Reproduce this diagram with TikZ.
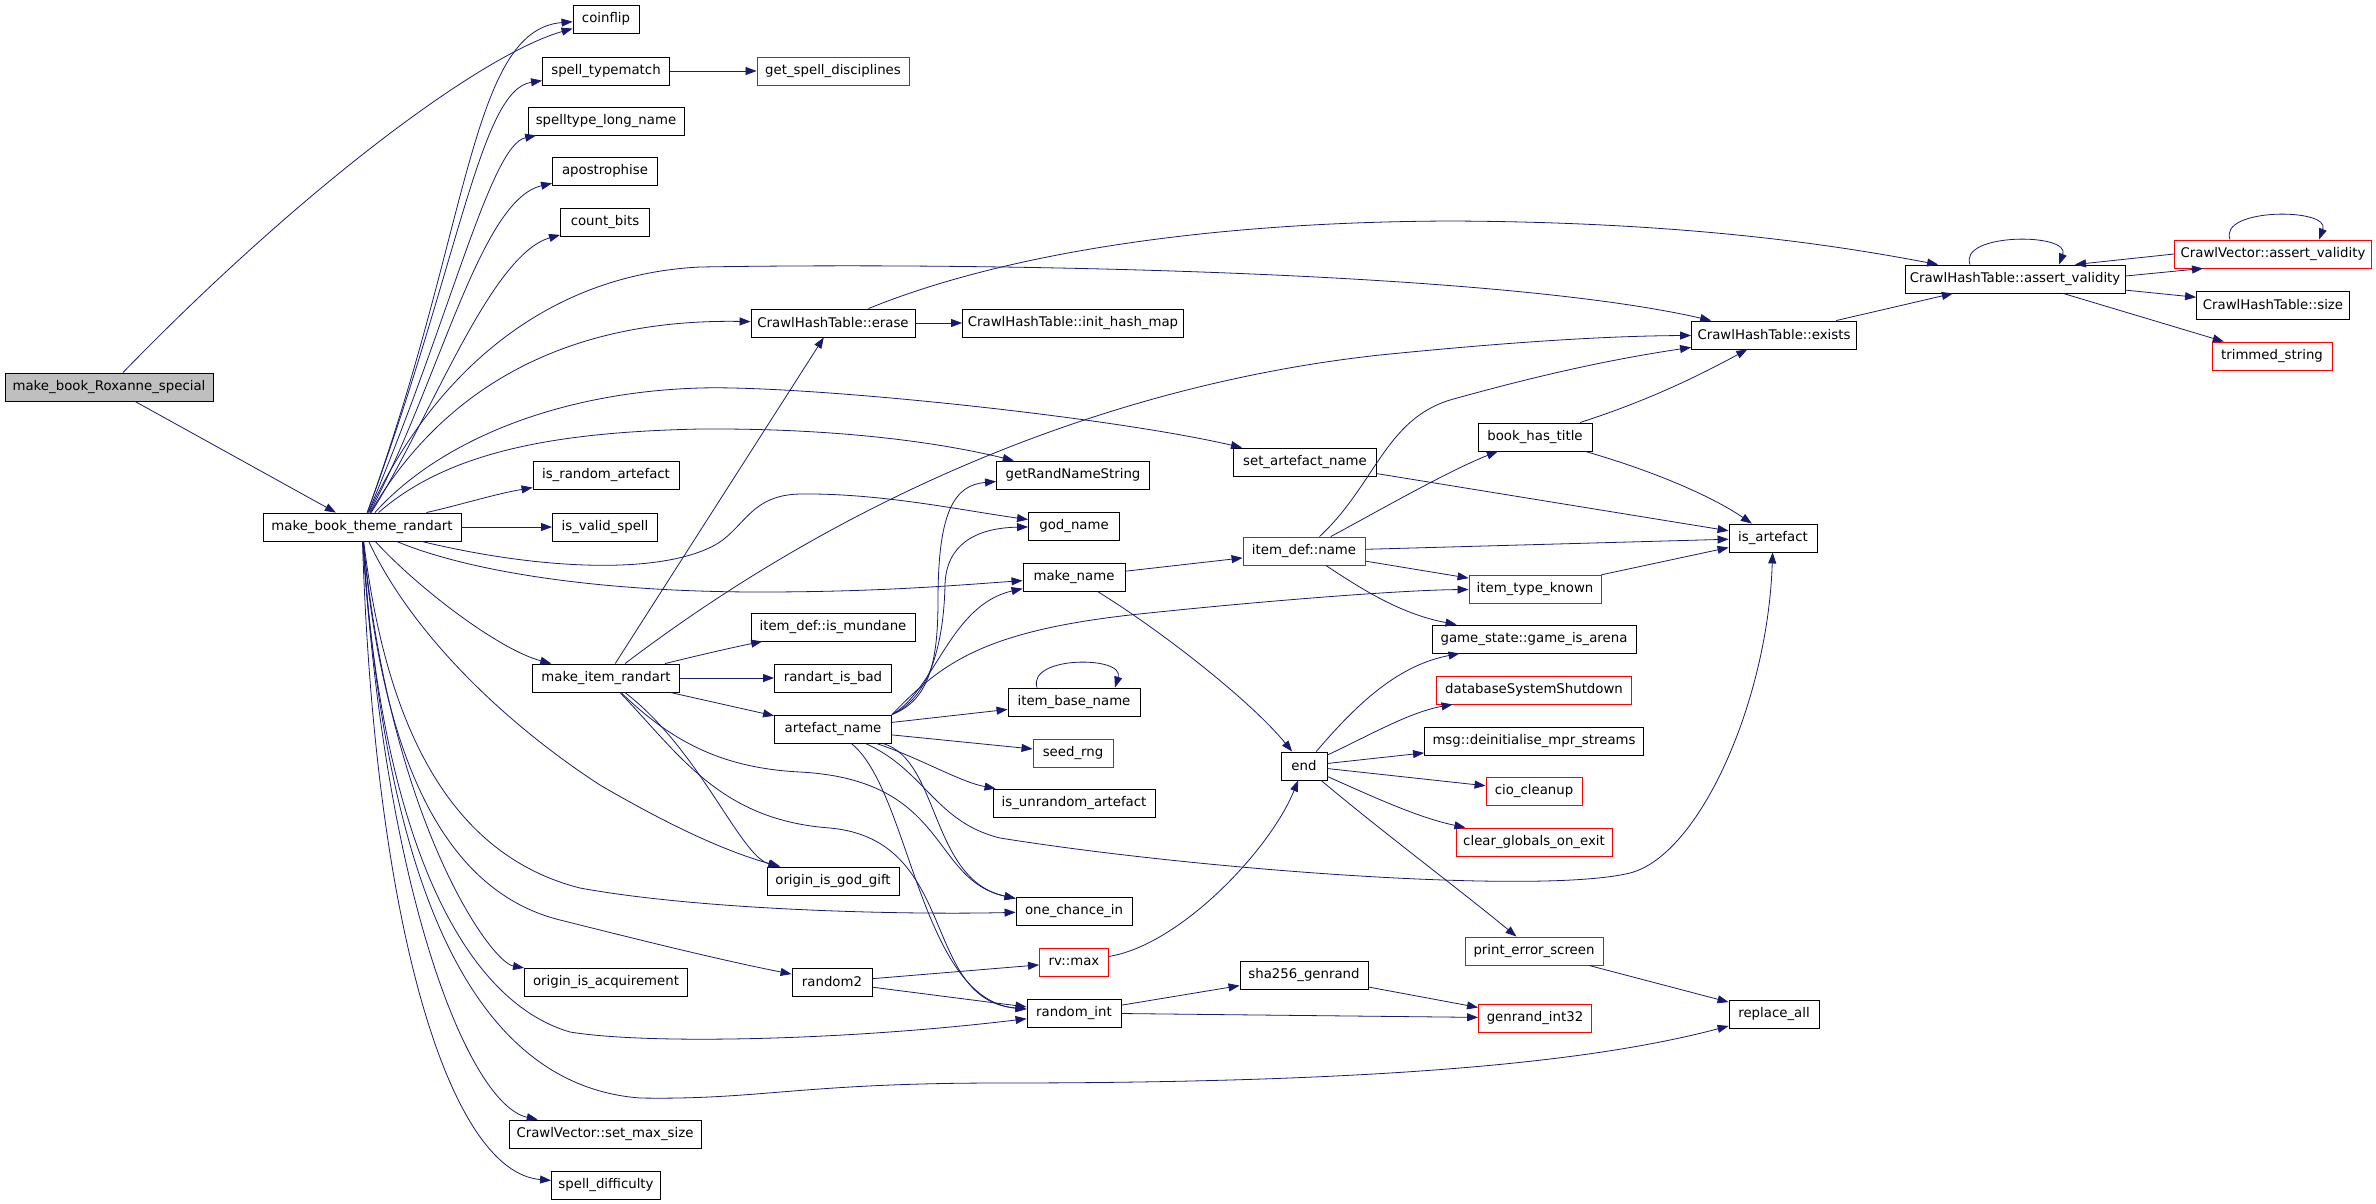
\documentclass[tikz,border=0pt]{standalone}
\usepackage{fontspec}
\newfontfamily\graphfont{DejaVu Sans}
\usepackage{tikz}
\usetikzlibrary{arrows.meta}
\definecolor{edgeblue}{RGB}{25,25,112}
\definecolor{rootgray}{RGB}{191,191,191}
\tikzset{
  fn/.style={draw=black, line width=0.9pt, minimum height=28pt, inner xsep=1pt, inner ysep=0pt, font=\graphfont\fontsize{13.3}{16}\selectfont},
  fnred/.style={fn, draw=red},
  call/.style={draw=edgeblue, line width=0.8pt, -{Triangle[length=11pt,width=8pt]}},
}

\begin{document}
\begin{tikzpicture}[x=1pt, y=-1pt]
    \useasboundingbox (0,0) rectangle (2376,1203);

    \node[fn, fill=rootgray, minimum width=208pt] (Rox) at (109,387) {make\_book\_Roxanne\_special};
    \node[fn, minimum width=198pt] (Theme) at (362,527) {make\_book\_theme\_randart};
    \node[fn, minimum width=66pt] (Coin) at (606,19) {coinflip};
    \node[fn, minimum width=127pt] (TypeM) at (606,71) {spell\_typematch};
    \node[fn, minimum width=156pt] (LongN) at (606,121) {spelltype\_long\_name};
    \node[fn, minimum width=105pt] (Apos) at (605,171) {apostrophise};
    \node[fn, minimum width=89pt] (CntB) at (605,222) {count\_bits};
    \node[fn, minimum width=146pt] (IsRnd) at (606,475) {is\_random\_artefact};
    \node[fn, minimum width=105pt] (IsVal) at (605,527) {is\_valid\_spell};
    \node[fn, minimum width=147pt] (MkItem) at (606,678) {make\_item\_randart};
    \node[fn, minimum width=163pt] (OrigAcq) at (606,982) {origin\_is\_acquirement};
    \node[fn, minimum width=192pt] (SetMax) at (605,1134) {CrawlVector::set\_max\_size};
    \node[fn, minimum width=109pt] (SpDiff) at (606,1185) {spell\_difficulty};
    \node[fnred, minimum width=152pt] (GetSD) at (833,71) {get\_spell\_disciplines};
    \node[fn, minimum width=164pt] (Erase) at (833,323) {CrawlHashTable::erase};
    \node[fn, minimum width=221pt] (InitHM) at (1073,323) {CrawlHashTable::init\_hash\_map};
    \node[fn, minimum width=164pt] (Mund) at (833,627) {item\_def::is\_mundane};
    \node[fn, minimum width=117pt] (RBad) at (833,678) {randart\_is\_bad};
    \node[fn, minimum width=117pt] (ArtN) at (833,729) {artefact\_name};
    \node[fn, minimum width=132pt] (GodG) at (833,881) {origin\_is\_god\_gift};
    \node[fn, minimum width=80pt] (Rnd2) at (832,982) {random2};
    \node[fn, minimum width=153pt] (GetRNS) at (1073,475) {getRandNameString};
    \node[fn, minimum width=91pt] (GodN) at (1074,526) {god\_name};
    \node[fn, minimum width=102pt] (MkName) at (1074,577) {make\_name};
    \node[fn, minimum width=132pt] (BaseN) at (1074,702) {item\_base\_name};
    \node[fnred, minimum width=80pt] (Seed) at (1073,753) {seed\_rng};
    \node[fn, minimum width=162pt] (Unrnd) at (1074,803) {is\_unrandom\_artefact};
    \node[fn, minimum width=116pt] (OneCh) at (1074,911) {one\_chance\_in};
    \node[fnred, minimum width=69pt] (RvMax) at (1074,962) {rv::max};
    \node[fn, minimum width=94pt] (RndInt) at (1074,1013) {random\_int};
    \node[fn, minimum width=143pt] (SetArt) at (1305,462) {set\_artefact\_name};
    \node[fnred, minimum width=122pt] (DefName) at (1304,551) {item\_def::name};
    \node[fn, minimum width=46pt] (End) at (1304,766) {end};
    \node[fn, minimum width=128pt] (Sha) at (1304,975) {sha256\_genrand};
    \node[fn, minimum width=114pt] (BookT) at (1535,437) {book\_has\_title};
    \node[fnred, minimum width=132pt] (TypeK) at (1535,589) {item\_type\_known};
    \node[fn, minimum width=204pt] (Arena) at (1534,639) {game\_state::game\_is\_arena};
    \node[fnred, minimum width=195pt] (DbShut) at (1534,690) {databaseSystemShutdown};
    \node[fn, minimum width=219pt] (MsgDe) at (1534,741) {msg::deinitialise\_mpr\_streams};
    \node[fnred, minimum width=96pt] (Cio) at (1534,791) {cio\_cleanup};
    \node[fnred, minimum width=156pt] (ClrG) at (1534,842) {clear\_globals\_on\_exit};
    \node[fnred, minimum width=138pt] (PrErr) at (1534,951) {print\_error\_screen};
    \node[fnred, minimum width=113pt] (Gen32) at (1535,1018) {genrand\_int32};
    \node[fn, minimum width=165pt] (Exists) at (1774,335) {CrawlHashTable::exists};
    \node[fn, minimum width=88pt] (IsArt) at (1773,538) {is\_artefact};
    \node[fn, minimum width=90pt] (Repl) at (1774,1014) {replace\_all};
    \node[fn, minimum width=220pt] (AssertH) at (2015,279) {CrawlHashTable::assert\_validity};
    \node[fnred, minimum width=197pt] (AssertV) at (2273,254) {CrawlVector::assert\_validity};
    \node[fn, minimum width=153pt] (Size) at (2273,305) {CrawlHashTable::size};
    \node[fnred, minimum width=120pt] (Trim) at (2272,356) {trimmed\_string};

    \draw[call] (Rox) .. controls (300,190) and (480,55) .. (Coin);
    \draw (Rox) edge[call] (Theme);

    \draw[call] (Theme) .. controls (470,230) and (470,30) .. (Coin);
    \draw[call] (Theme) .. controls (460,260) and (480,90) .. (TypeM);
    \draw[call] (Theme) .. controls (450,320) and (490,145) .. (LongN);
    \draw[call] (Theme) .. controls (440,380) and (480,200) .. (Apos);
    \draw[call] (Theme) .. controls (430,420) and (490,255) .. (CntB);
    \draw[call] (Theme) .. controls (430,380) and (540,275) .. (700,267) .. controls (1000,262) and (1500,272) .. (Exists);
    \draw[call] (Theme) .. controls (430,410) and (540,318) .. (Erase);
    \draw[call] (Theme) .. controls (440,440) and (560,392) .. (700,388) .. controls (800,385) and (1100,415) .. (SetArt);
    \draw[call] (Theme) .. controls (450,450) and (560,432) .. (700,429) .. controls (850,428) and (950,445) .. (GetRNS);
    \draw[call] (Theme) .. controls (460,505) and (495,494) .. (IsRnd);
    \draw (Theme) edge[call] (IsVal);
    \draw[call] (Theme) .. controls (540,570) and (660,575) .. (715,545) .. controls (745,528) and (750,495) .. (800,494) .. controls (880,493) and (960,510) .. (GodN);
    \draw[call] (Theme) .. controls (470,572) and (600,592) .. (760,592) .. controls (880,592) and (960,585) .. (MkName);
    \draw[call] (Theme) .. controls (420,590) and (500,650) .. (MkItem);
    \draw[call] (Theme) .. controls (410,630) and (500,720) .. (600,785) .. controls (660,820) and (720,850) .. (GodG);
    \draw[call] (Theme) .. controls (390,760) and (470,860) .. (580,888) .. controls (700,910) and (900,915) .. (OneCh);
    \draw[call] (Theme) .. controls (385,790) and (460,895) .. (560,920) .. controls (640,940) and (720,960) .. (Rnd2);
    \draw[call] (Theme) .. controls (380,830) and (460,1000) .. (570,1032) .. controls (650,1045) and (850,1040) .. (RndInt);
    \draw[call] (Theme) .. controls (390,820) and (490,962) .. (OrigAcq);
    \draw[call] (Theme) .. controls (385,880) and (470,1085) .. (640,1098) .. controls (760,1100) and (800,1083) .. (1000,1083) .. controls (1400,1083) and (1600,1060) .. (Repl);
    \draw[call] (Theme) .. controls (385,900) and (470,1105) .. (SetMax);
    \draw[call] (Theme) .. controls (375,930) and (450,1172) .. (SpDiff);

    \draw (TypeM) edge[call] (GetSD);
    \draw (Erase) edge[call] (InitHM);
    \draw[call] (Erase) .. controls (1000,255) and (1200,222) .. (1450,221) .. controls (1700,222) and (1850,248) .. (AssertH);

    \draw (MkItem) edge[call] (Erase);
    \draw[call] (MkItem) .. controls (880,470) and (1150,380) .. (1380,355) .. controls (1500,343) and (1600,336) .. (Exists);
    \draw[call] (MkItem) .. controls (700,655) and (730,648) .. (Mund);
    \draw (MkItem) edge[call] (RBad);
    \draw (MkItem) edge[call] (ArtN);
    \draw[call] (MkItem) .. controls (700,750) and (740,856) .. (GodG);
    \draw[call] (MkItem) .. controls (670,740) and (720,768) .. (800,772) .. controls (950,780) and (930,880) .. (OneCh);
    \draw[call] (MkItem) .. controls (680,755) and (720,820) .. (830,828) .. controls (960,840) and (920,1000) .. (RndInt);

    \draw[call] (ArtN.north east) .. controls (930,700) and (938,660) .. (938,600) .. controls (938,510) and (955,485) .. (GetRNS);
    \draw[call] (ArtN.north east) .. controls (935,695) and (944,630) .. (945,585) .. controls (946,545) and (975,528) .. (GodN);
    \draw[call] (ArtN.north east) .. controls (935,690) and (950,605) .. (MkName);
    \draw[call] (ArtN.north east) .. controls (940,665) and (980,632) .. (1130,615) .. controls (1250,602) and (1400,590) .. (TypeK);
    \draw (ArtN) edge[call] (BaseN);
    \draw (ArtN) edge[call] (Seed);
    \draw[call] (ArtN) .. controls (920,758) and (960,782) .. (Unrnd);
    \draw[call] (ArtN) .. controls (940,760) and (930,880) .. (OneCh);
    \draw[call] (ArtN) .. controls (910,790) and (920,1000) .. (RndInt);
    \draw[call] (ArtN) .. controls (925,770) and (935,822) .. (1000,838) .. controls (1200,870) and (1540,895) .. (1630,873) .. controls (1700,855) and (1768,700) .. (IsArt);

    \draw[call] ([xshift=-37pt]BaseN.north) .. controls +(-10,-32) and +(10,-32) .. ([xshift=41pt]BaseN.north);

    \draw (MkName) edge[call] (DefName);
    \draw[call] (MkName) .. controls (1160,630) and (1250,700) .. (End);

    \draw[call] (DefName) .. controls (1380,510) and (1450,470) .. (BookT);
    \draw[call] (DefName) .. controls (1375,485) and (1385,420) .. (1450,400) .. controls (1550,372) and (1620,358) .. (Exists);
    \draw (DefName) edge[call] (IsArt);
    \draw (DefName) edge[call] (TypeK);
    \draw[call] (DefName) .. controls (1360,588) and (1400,614) .. (Arena);

    \draw (SetArt) edge[call] (IsArt);
    \draw (TypeK) edge[call] (IsArt);
    \draw[call] (BookT) .. controls (1650,470) and (1710,495) .. (IsArt);
    \draw[call] (BookT) .. controls (1650,400) and (1700,375) .. (Exists);

    \draw (Exists) edge[call] (AssertH);
    \draw[call] ([xshift=-45pt]AssertH.north) .. controls +(-12,-32) and +(12,-32) .. ([xshift=44pt]AssertH.north);
    \draw[call] (AssertV.west) -- ([xshift=60pt]AssertH.north);
    \draw[call] ([yshift=3pt]AssertH.east) -- ([xshift=-70pt]AssertV.south);
    \draw (AssertH) edge[call] (Size);
    \draw (AssertH) edge[call] (Trim);
    \draw[call] ([xshift=-43pt]AssertV.north) .. controls +(-12,-32) and +(12,-32) .. ([xshift=46pt]AssertV.north);

    \draw[call] (End) .. controls (1360,700) and (1400,665) .. (Arena);
    \draw[call] (End) .. controls (1370,735) and (1410,712) .. (DbShut);
    \draw (End) edge[call] (MsgDe);
    \draw (End) edge[call] (Cio);
    \draw[call] (End) .. controls (1380,800) and (1420,818) .. (ClrG);
    \draw[call] (End) .. controls (1380,830) and (1460,890) .. (PrErr);
    \draw (PrErr) edge[call] (Repl);

    \draw (Rnd2) edge[call] (RvMax);
    \draw (Rnd2) edge[call] (RndInt);
    \draw[call] (RvMax) .. controls (1180,945) and (1270,850) .. (End);
    \draw (RndInt) edge[call] (Sha);
    \draw (RndInt) edge[call] (Gen32);
    \draw (Sha) edge[call] (Gen32);
\end{tikzpicture}
\end{document}
